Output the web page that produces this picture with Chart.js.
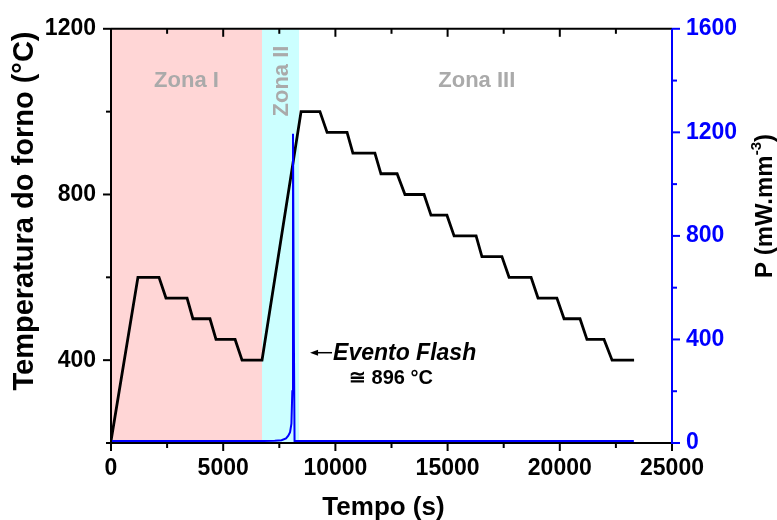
<!DOCTYPE html>
<html>
<head>
<meta charset="utf-8">
<script src="https://cdn.jsdelivr.net/npm/chart.js@4.4.0/dist/chart.umd.min.js"></script>
<style>
    html, body { margin: 0; padding: 0; background: #fff; }
    #wrap { width: 777px; height: 520px; }
</style>
</head>
<body>
<div id="wrap"><canvas id="myChart" width="777" height="520"></canvas></div>
<script>
// furnace temperature (left axis)
const tempTime = [0, 1200, 2140, 2450, 3390, 3650, 4410, 4680, 5530, 5840, 6730,
    8470, 9310, 9630, 10520, 10780, 11760, 12030, 12750, 13100, 13950, 14260, 14970,
    15290, 16270, 16530, 17420, 17740, 18720, 19030, 19870, 20190, 20900, 21210, 21970,
    22330, 23310];
const tempValue = [205, 600, 600, 550, 550, 500, 500, 450, 450, 400, 400,
    1000, 1000, 950, 950, 900, 900, 850, 850, 800, 800, 750, 750,
    700, 700, 650, 650, 600, 600, 550, 550, 500, 500, 450, 450,
    400, 400];

// power density (right axis)
const powerTime = [0, 6800, 7300, 7600, 7800, 7900, 7980, 8040, 8080, 8110, 8150, 8180, 23300];
const powerValue = [8, 8, 9, 11, 18, 28, 42, 75, 200, 1195, 400, 8, 8];

// zones
const zoneNames = ['Zona I', 'Zona II', 'Zona III'];
const zoneStart = [0, 6730, 8380];
const zoneEnd = [6730, 8380, 25000];
const zoneLabelTime = [3365, 7555, 16300];
const zoneColors = ['#ffd6d6', '#ccffff', null];

// ticks
const xTickStep = 2500, xLabelStep = 5000;
const yTickStep = 200, yLabelStep = 400;
const y1TickStep = 200, y1LabelStep = 400;

// annotation
const flashTime = 8870, flashTemp = 418;
const flashText = 'Evento Flash';
const flashTempText = '\u2245 896 \u00b0C';

const FONT = '"Liberation Sans", Arial, Helvetica, sans-serif';
const BLUE = '#0000ff';

const extras = {
    id: 'extras',
    beforeDatasetsDraw(chart) {
        const {ctx, chartArea: a, scales: {x, y}} = chart;
        ctx.save();
        zoneColors.forEach((c, i) => {
            if (!c) return;
            const x0 = x.getPixelForValue(zoneStart[i]);
            const x1 = x.getPixelForValue(zoneEnd[i]);
            ctx.fillStyle = c;
            ctx.fillRect(x0, a.top, x1 - x0, a.bottom - a.top);
        });
        ctx.fillStyle = '#aaaaaa';
        ctx.font = 'bold 22px ' + FONT;
        ctx.textAlign = 'center';
        ctx.textBaseline = 'middle';
        const ly = 81;
        zoneNames.forEach((n, i) => {
            const px = x.getPixelForValue(zoneLabelTime[i]);
            if (i === 1) {
                ctx.save();
                ctx.translate(px, ly);
                ctx.rotate(-Math.PI / 2);
                ctx.fillText(n, 0, 1);
                ctx.restore();
            } else {
                ctx.fillText(n, px, ly);
            }
        });
        ctx.restore();
    },
    afterDraw(chart) {
        const {ctx, chartArea: a, scales: {x, y, y1}} = chart;
        ctx.save();
        ctx.lineWidth = 2;
        // tick marks
        const mark = (x0, y0, x1, y1_, color) => {
            ctx.strokeStyle = color;
            ctx.beginPath();
            ctx.moveTo(x0, y0);
            ctx.lineTo(x1, y1_);
            ctx.stroke();
        };
        x.ticks.forEach(t => {
            const px = x.getPixelForValue(t.value);
            const len = t.value % xLabelStep === 0 ? 8 : 5;
            mark(px, a.bottom, px, a.bottom + len, '#000');
            mark(px, a.top, px, a.top + len, '#000');
        });
        y.ticks.forEach(t => {
            const py = y.getPixelForValue(t.value);
            const len = t.value % yLabelStep === 0 ? 8 : 5;
            mark(a.left - len, py, a.left, py, '#000');
        });
        y1.ticks.forEach(t => {
            const py = y1.getPixelForValue(t.value);
            const len = t.value % y1LabelStep === 0 ? 8 : 5;
            mark(a.right, py, a.right + len, py, BLUE);
        });
        // frame
        mark(a.left, a.top, a.right, a.top, '#000');
        mark(a.left, a.bottom, a.right, a.bottom, '#000');
        mark(a.left, a.top, a.left, a.bottom + 1, '#000');
        mark(a.right, a.top, a.right, a.bottom + 1, BLUE);

        // axis titles
        ctx.fillStyle = '#000';
        ctx.textBaseline = 'alphabetic';
        ctx.textAlign = 'center';
        ctx.font = 'bold 26px ' + FONT;
        ctx.fillText('Tempo (s)', (a.left + a.right) / 2 - 8, 515);

        ctx.save();
        ctx.translate(33, 211);
        ctx.rotate(-Math.PI / 2);
        ctx.font = 'bold 29px ' + FONT;
        ctx.fillText('Temperatura do forno (\u00b0C)', 0, 0);
        ctx.restore();

        ctx.save();
        ctx.translate(772, 206);
        ctx.rotate(-Math.PI / 2);
        const f1 = 'bold 24px ' + FONT, f2 = 'bold 15px ' + FONT;
        ctx.font = f1;
        const p1 = 'P (mW.mm', p3 = ')';
        const w1 = ctx.measureText(p1).width, w3 = ctx.measureText(p3).width;
        ctx.font = f2;
        const w2 = ctx.measureText('-3').width;
        let sx = -(w1 + w2 + w3) / 2;
        ctx.textAlign = 'left';
        ctx.font = f1;
        ctx.fillText(p1, sx, 0);
        ctx.font = f2;
        ctx.fillText('-3', sx + w1, -11);
        ctx.font = f1;
        ctx.fillText(p3, sx + w1 + w2, 0);
        ctx.restore();

        // flash annotation
        const ax = x.getPixelForValue(flashTime);
        const ay = y.getPixelForValue(flashTemp);
        ctx.strokeStyle = '#000';
        ctx.lineWidth = 1.5;
        ctx.beginPath();
        ctx.moveTo(ax + 4, ay);
        ctx.lineTo(ax + 22, ay);
        ctx.stroke();
        ctx.fillStyle = '#000';
        ctx.beginPath();
        ctx.moveTo(ax, ay);
        ctx.lineTo(ax + 8, ay - 3);
        ctx.lineTo(ax + 8, ay + 3);
        ctx.closePath();
        ctx.fill();
        ctx.textAlign = 'left';
        ctx.font = 'italic bold 23px ' + FONT;
        ctx.fillText(flashText, ax + 23, ay + 7);
        ctx.font = 'bold 20px ' + FONT;
        ctx.fillText(flashTempText, ax + 39, ay + 31);
        ctx.restore();
    }
};

const tickFont = {family: FONT, size: 23, weight: 'bold'};

function createChart() {
    const ctx = document.getElementById('myChart').getContext('2d');
    new Chart(ctx, {
        type: 'line',
        data: {
            datasets: [{
                label: 'P',
                data: powerTime.map((t, i) => ({x: t, y: powerValue[i]})),
                yAxisID: 'y1',
                borderColor: BLUE,
                borderWidth: 2,
                pointRadius: 0,
                tension: 0
            }, {
                label: 'T',
                data: tempTime.map((t, i) => ({x: t, y: tempValue[i]})),
                yAxisID: 'y',
                borderColor: '#000',
                borderWidth: 2.8,
                pointRadius: 0,
                tension: 0
            }]
        },
        options: {
            responsive: false,
            animation: false,
            layout: {padding: {top: 26, left: 0, right: 0, bottom: 0}},
            plugins: {legend: {display: false}, tooltip: {enabled: false}},
            scales: {
                x: {
                    type: 'linear', position: 'bottom', min: 0, max: 25000,
                    grid: {display: false, drawTicks: false},
                    border: {display: false},
                    ticks: {
                        stepSize: xTickStep, autoSkip: false, maxRotation: 0,
                        font: tickFont, color: '#000', padding: 12,
                        callback: v => v % xLabelStep === 0 ? String(v) : ''
                    },
                    afterFit: s => { s.height = 77; }
                },
                y: {
                    type: 'linear', position: 'left', min: 200, max: 1200,
                    grid: {display: false, drawTicks: false},
                    border: {display: false},
                    ticks: {
                        stepSize: yTickStep, autoSkip: false,
                        font: tickFont, color: '#000', padding: 15,
                        callback: v => v % yLabelStep === 0 ? String(v) : ''
                    },
                    afterFit: s => { s.width = 111; }
                },
                y1: {
                    type: 'linear', position: 'right', min: 0, max: 1600,
                    grid: {display: false, drawTicks: false},
                    border: {display: false},
                    ticks: {
                        stepSize: y1TickStep, autoSkip: false,
                        font: tickFont, color: BLUE, padding: 14,
                        callback: v => v % y1LabelStep === 0 ? String(v) : ''
                    },
                    afterFit: s => { s.width = 105; }
                }
            }
        },
        plugins: [extras]
    });
}

createChart();
</script>
</body>
</html>
